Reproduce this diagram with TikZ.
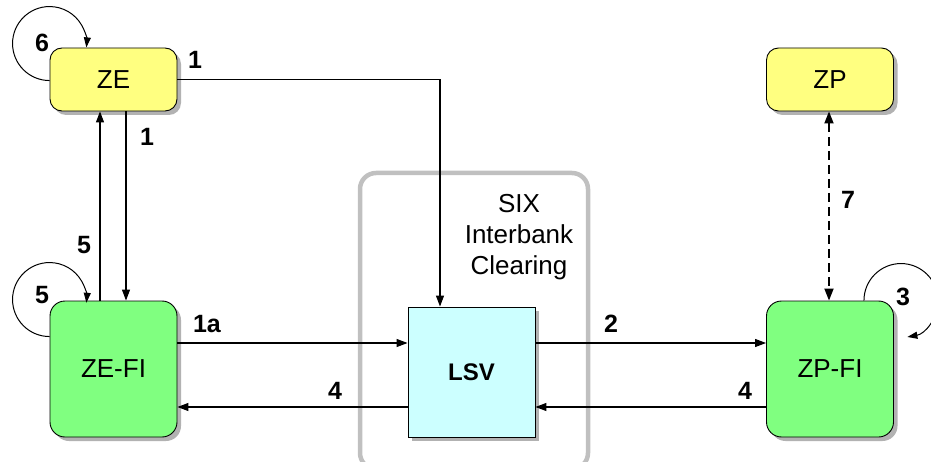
\documentclass[tikz,border=0pt]{standalone}
\usepackage{fontspec}
\setmainfont{Liberation Sans}
\usepackage{tikz}
\usetikzlibrary{arrows.meta,positioning,shadows,calc}
\definecolor{partyfill}{HTML}{FFFF80}
\definecolor{bankfill}{HTML}{80FF80}
\definecolor{clearfill}{HTML}{CCFFFF}
\definecolor{framegray}{HTML}{C0C0C0}
\tikzset{
    box/.style={
        draw=black,
        line width=0.9pt,
        inner sep=0pt,
        font=\fontsize{26}{30}\selectfont,
        drop shadow={shadow xshift=4pt,shadow yshift=-4pt,fill=black!30,opacity=1}
    },
    party/.style={
        box,
        fill=partyfill,
        rounded corners=12pt,
        minimum width=127pt,
        minimum height=63pt
    },
    bank/.style={
        box,
        fill=bankfill,
        rounded corners=15pt,
        minimum width=127pt,
        minimum height=136pt
    },
    flow/.style={
        -{Triangle[length=11pt,width=8pt]},
        line width=1.1pt
    },
    selfloop/.style={
        -{Triangle[length=10pt,width=7pt]},
        line width=1pt
    },
    msglabel/.style={
        font=\fontsize{25}{29}\selectfont\bfseries,
        inner sep=0pt
    }
}

\begin{document}
\begin{tikzpicture}[x=1pt,y=1pt]

    \useasboundingbox (0,0) rectangle (931,461);

    % Clearing frame
    \draw[framegray,line width=4.5pt,rounded corners=16pt]
        (360,-8) rectangle (588,288);

    \node[
        font=\fontsize{26}{31}\selectfont,
        align=center
    ] (six)
        at (519,224)
        {SIX\\Interbank\\Clearing};

    % Boxes
    \node[party] (ze) at (113.5,381.5) {ZE};
    \node[party] (zp) at (830,381.5) {ZP};
    \node[bank] (zefi) at (113.5,92) {ZE-FI};
    \node[bank] (zpfi) at (830,92) {ZP-FI};

    \node[
        box,
        fill=clearfill,
        minimum width=127pt,
        minimum height=130pt,
        font=\fontsize{24}{28}\selectfont\bfseries
    ] (lsv)
        at (471.5,89)
        {LSV};

    % Ends of the horizontal flows
    \coordinate (onea) at ([yshift=26pt]zefi.east);
    \coordinate (two) at ([yshift=26pt]zpfi.west);
    \coordinate (fourl) at ([yshift=-38pt]zefi.east);
    \coordinate (fourr) at ([yshift=-38pt]zpfi.west);

    % Flows
    \draw[flow]
        (ze.east)
        -| ([xshift=-31.5pt]lsv.north);

    \draw[flow]
        ([xshift=12.5pt]ze.south)
        -- ([xshift=12.5pt]zefi.north);

    \draw[flow]
        ([xshift=-13.5pt]zefi.north)
        -- ([xshift=-13.5pt]ze.south);

    \draw[flow] (onea) -- (onea -| lsv.west);
    \draw[flow] (lsv.east |- two) -- (two);
    \draw[flow] (fourr) -- (fourr -| lsv.east);
    \draw[flow] (lsv.west |- fourl) -- (fourl);

    \draw[
        {Triangle[length=12pt,width=9pt]}-{Triangle[length=12pt,width=9pt]},
        dash pattern=on 9pt off 5pt,
        line width=1.8pt
    ]
        ([xshift=-1pt]zp.south)
        -- ([xshift=-1pt]zpfi.north);

    % Loops
    \draw[selfloop]
        ([yshift=-33pt]ze.north west)
        arc[start angle=270,end angle=-6,radius=37pt];

    \draw[selfloop]
        ([yshift=-36pt]zefi.north west)
        arc[start angle=270,end angle=-5,radius=37pt];

    \draw[selfloop]
        ([xshift=-30pt]zpfi.north east)
        arc[start angle=180,end angle=-80,radius=37pt];

    % Labels
    \node[msglabel] (l6) at (42,418) {6};
    \node[msglabel] (l1a) at (195,401) {1};
    \node[msglabel] (l1b) at (147,324) {1};
    \node[msglabel] (l5a) at (84,216) {5};
    \node[msglabel] (l5b) at (42,166) {5};
    \node[msglabel] (lonea) at (207,137) {1a};
    \node[msglabel] (l4a) at (335,70) {4};
    \node[msglabel] (l2) at (611,137) {2};
    \node[msglabel] (l4b) at (745,70) {4};
    \node[msglabel] (l7) at (848,261) {7};
    \node[msglabel] (l3) at (903,164) {3};

\end{tikzpicture}
\end{document}
